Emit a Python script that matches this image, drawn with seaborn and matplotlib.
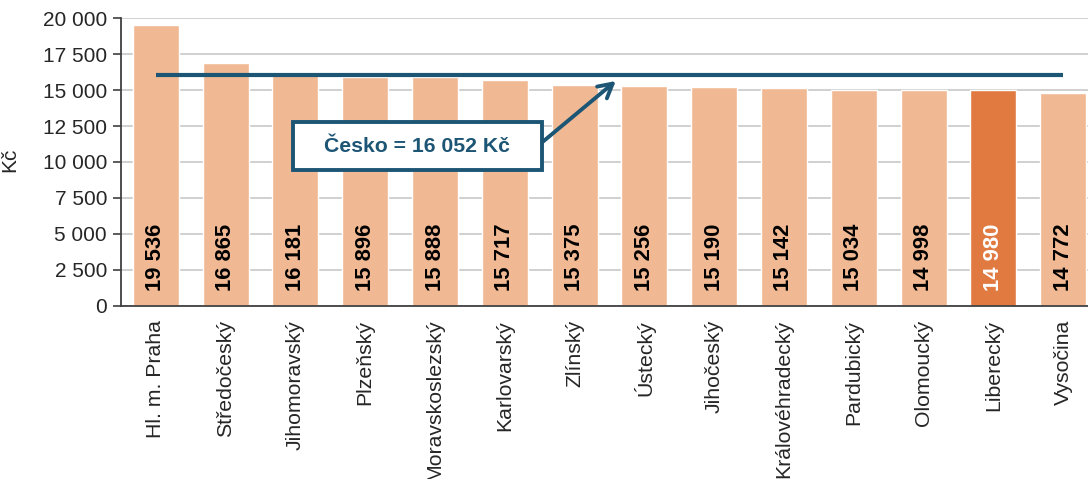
import matplotlib
matplotlib.use("Agg")
import matplotlib.pyplot as plt
from matplotlib.patches import Rectangle
import seaborn as sns
import pandas as pd

regions = ["Hl. m. Praha", "Středočeský", "Jihomoravský", "Plzeňský", "Moravskoslezský",
           "Karlovarský", "Zlínský", "Ústecký", "Jihočeský", "Královéhradecký",
           "Pardubický", "Olomoucký", "Liberecký", "Vysočina"]
values = [19536, 16865, 16181, 15896, 15888, 15717, 15375, 15256, 15190, 15142,
          15034, 14998, 14980, 14772]
highlight = "Liberecký"
czech_avg = 16052
avg_label = "Česko = 16 052 Kč"
yticks = [0, 2500, 5000, 7500, 10000, 12500, 15000, 17500, 20000]

LIGHT = "#F1B993"
DARK = "#E07A41"
NAVY = "#1D5575"

sns.set_style("white")
plt.rcParams["font.family"] = ["Liberation Sans", "DejaVu Sans"]

df = pd.DataFrame({"region": regions, "value": values})
palette = {r: (DARK if r == highlight else LIGHT) for r in regions}

fig = plt.figure(figsize=(10.88, 4.79), dpi=100)
ax = fig.add_axes([0.1112, 0.3612, 0.898, 0.6012])

sns.barplot(data=df, x="region", y="value", hue="region", palette=palette,
            width=0.66, saturation=1, legend=False, ax=ax, zorder=2)

def fmt(v):
    return f"{v:,}".replace(",", " ")

ax.set_ylim(0, 20000)
ax.set_xlim(-0.5, len(regions) - 0.5)
ax.set_yticks(yticks)
ax.set_yticklabels([fmt(t) for t in yticks], fontsize=15)
ax.yaxis.grid(True, color="#C8C8C8", linewidth=1.2, zorder=0)
ax.set_axisbelow(True)
ax.set_ylabel("Kč", fontsize=15)
ax.yaxis.set_label_coords(-0.104, 0.507)
ax.set_xlabel("")

# category labels centered, ticks at boundaries
ax.set_xticks(range(len(regions)))
ax.set_xticklabels(regions, rotation=90, fontsize=15.3)
ax.tick_params(axis="x", which="major", length=0, pad=10)
ax.set_xticks([i - 0.5 for i in range(len(regions) + 1)], minor=True)
ax.tick_params(axis="x", which="minor", length=6, width=1.2, color="#404040", direction="out")
ax.tick_params(axis="y", length=6, width=1.2, color="#404040", direction="out", pad=4, left=True)

for s in ["top", "right"]:
    ax.spines[s].set_visible(False)
for s in ["left", "bottom"]:
    ax.spines[s].set_color("#404040")
    ax.spines[s].set_linewidth(1.3)

# value labels
for i, (r, v) in enumerate(zip(regions, values)):
    ax.text(i, 1050, fmt(v), rotation=90, ha="center", va="bottom",
            fontsize=15.8, fontweight="bold",
            color="white" if r == highlight else "black", zorder=4)

# average line
ax.plot([0, len(regions) - 1], [czech_avg, czech_avg], color=NAVY, linewidth=3,
        solid_capstyle="butt", zorder=3)

# annotation box
ax.add_patch(Rectangle((1.968, 9444), 5.526 - 1.968, 12778 - 9444, facecolor="white",
                       edgecolor=NAVY, linewidth=2.8, zorder=5))
ax.text(3.747, 11111, avg_label, ha="center", va="center", fontsize=15.3,
        fontweight="bold", color=NAVY, zorder=6)
ax.annotate("", xy=(6.59, 15625), xytext=(5.54, 11389),
            arrowprops=dict(arrowstyle="->,head_length=1.0,head_width=0.55", color=NAVY, lw=2.8,
                            shrinkA=0, shrinkB=0),
            zorder=5)

fig.savefig("out.png", dpi=100)
